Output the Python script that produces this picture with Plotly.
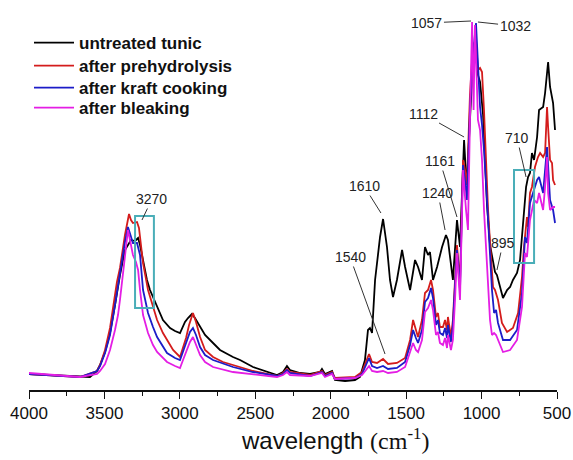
import plotly.graph_objects as go

# ---------------- data (wavenumber cm-1, intensity a.u.) ----------------
untreated_wn = [4000, 3861, 3662, 3596, 3549, 3529, 3496, 3463, 3430, 3397, 3364, 3337, 3324, 3297, 3277, 3264,
                3244, 3218, 3198, 3178, 3151, 3112, 3065, 3032, 2999, 2979, 2966, 2946, 2920, 2900, 2866, 2833,
                2780, 2734, 2648, 2601, 2515, 2436, 2356, 2316, 2290, 2270, 2204, 2137, 2071, 2058, 2038, 1991,
                1972, 1905, 1839, 1806, 1773, 1753, 1740, 1726, 1706, 1673, 1653, 1627, 1607, 1587, 1561, 1527,
                1507, 1474, 1441, 1421, 1395, 1375, 1355, 1342, 1329, 1322, 1295, 1262, 1236, 1223, 1190, 1163,
                1143, 1123, 1116, 1103, 1097, 1077, 1057, 1037, 1024, 1010, 990, 977, 964, 944, 924, 911, 898,
                878, 858, 831, 811, 792, 765, 745, 725, 705, 692, 679, 666, 652, 632, 619, 592, 579, 566, 559,
                546, 526, 513]
untreated_ab = [16, 15, 13, 13, 19, 25, 38, 57, 85, 115, 140, 147, 150, 149, 152, 145,
                128, 110, 100, 93, 84, 70, 62, 59, 57, 63, 68, 72, 76, 72, 63, 55,
                47, 40, 33, 30, 23, 19, 15, 18, 24, 20, 17, 16, 18, 21, 16, 19,
                10, 9, 10, 13, 30, 60, 62, 57, 110, 153, 171, 143, 110, 93, 110, 140,
                123, 100, 130, 123, 110, 143, 135, 138, 123, 110, 123, 143, 155, 150, 110, 170,
                143, 230, 250, 215, 207, 270, 330, 335, 315, 308, 275, 230, 185, 145, 128, 118, 115,
                102, 92, 100, 103, 110, 117, 130, 163, 203, 213, 217, 237, 230, 253, 280, 283, 297, 317, 328,
                303, 287, 260]

prehyd_wn = [4000, 3662, 3549, 3529, 3496, 3463, 3430, 3417, 3397, 3364, 3337, 3324, 3311, 3284, 3271, 3257,
             3244, 3211, 3178, 3151, 3112, 3085, 3045, 2999, 2979, 2959, 2939, 2913, 2893, 2866, 2833, 2780,
             2714, 2648, 2515, 2356, 2316, 2290, 2270, 2137, 2058, 2038, 1991, 1972, 1839, 1793, 1766, 1746,
             1726, 1693, 1653, 1620, 1561, 1507, 1474, 1454, 1435, 1421, 1395, 1375, 1355, 1335, 1322, 1302,
             1289, 1276, 1256, 1242, 1229, 1223, 1203, 1190, 1176, 1163, 1143, 1123, 1110, 1097, 1077, 1057,
             1037, 1024, 1010, 997, 984, 971, 957, 944, 924, 911, 891, 865, 831, 792, 758, 732, 719, 699,
             692, 679, 666, 646, 626, 612, 592, 579, 566, 559, 546, 533, 526, 513]
prehyd_ab = [16, 13, 19, 25, 40, 62, 95, 108, 122, 155, 176, 170, 167, 168, 162, 145,
             127, 100, 82, 70, 57, 50, 40, 33, 43, 52, 65, 77, 68, 53, 40, 33,
             28, 25, 19, 14, 17, 21, 18, 15, 19, 15, 18, 12, 13, 18, 28, 36,
             28, 27, 31, 26, 27, 32, 50, 70, 60, 53, 70, 97, 100, 110, 100, 73,
             77, 63, 63, 70, 60, 73, 53, 70, 110, 145, 107, 230, 220, 205, 295, 345,
             350, 320, 322, 318, 280, 230, 180, 147, 103, 100, 90, 67, 58, 62, 77, 113, 143, 173,
             163, 197, 203, 223, 233, 237, 233, 237, 283, 263, 230, 227, 210, 205]

kraft_wn = [4000, 3662, 3549, 3529, 3496, 3463, 3430, 3397, 3364, 3344, 3324, 3311, 3284, 3264, 3244, 3211,
            3178, 3151, 3085, 3032, 2999, 2979, 2959, 2933, 2913, 2893, 2866, 2833, 2780, 2648, 2515, 2356,
            2316, 2290, 2270, 2137, 2058, 2038, 1991, 1972, 1839, 1793, 1766, 1746, 1726, 1693, 1653, 1620,
            1561, 1507, 1474, 1454, 1435, 1421, 1395, 1375, 1355, 1335, 1322, 1302, 1289, 1276, 1256, 1242,
            1229, 1223, 1203, 1190, 1176, 1163, 1143, 1123, 1110, 1097, 1077, 1057, 1037, 1024, 1010, 997,
            984, 964, 944, 931, 917, 904, 891, 858, 811, 765, 732, 712, 699, 679, 659, 632, 619, 599, 592,
            566, 559, 546, 526, 513]
kraft_ab = [16, 13, 19, 24, 37, 55, 85, 118, 148, 163, 152, 147, 147, 135, 100, 77,
            63, 53, 37, 32, 30, 38, 47, 58, 62, 55, 43, 35, 30, 23, 18, 14,
            16, 20, 17, 14, 18, 14, 17, 11, 12, 16, 25, 32, 24, 22, 24, 21,
            22, 28, 45, 60, 52, 47, 60, 88, 92, 102, 92, 65, 70, 57, 55, 62,
            52, 65, 48, 65, 105, 140, 100, 225, 210, 190, 280, 335, 367, 320, 283, 265,
            240, 190, 130, 100, 77, 80, 67, 50, 50, 60, 97, 153, 147, 187, 197, 210, 213, 203, 197,
            243, 220, 190, 180, 167]

bleach_wn = [4000, 3662, 3549, 3529, 3496, 3463, 3430, 3410, 3397, 3377, 3357, 3344, 3324, 3311, 3291, 3277,
             3264, 3244, 3211, 3178, 3151, 3085, 3032, 2999, 2979, 2959, 2933, 2913, 2893, 2866, 2833, 2780,
             2648, 2515, 2356, 2316, 2290, 2270, 2137, 2058, 2038, 1991, 1972, 1839, 1793, 1766, 1746, 1726,
             1693, 1653, 1620, 1561, 1507, 1474, 1454, 1435, 1421, 1395, 1375, 1355, 1335, 1322, 1302, 1289,
             1276, 1256, 1242, 1229, 1223, 1203, 1190, 1176, 1163, 1143, 1123, 1103, 1090, 1077, 1063, 1053,
             1044, 1030, 1024, 1010, 997, 984, 964, 944, 931, 917, 904, 891, 858, 811, 765, 732, 712, 699,
             679, 652, 632, 619, 592, 579, 566, 559, 546, 526, 513]
bleach_ab = [17, 13, 16, 19, 26, 40, 60, 75, 90, 115, 145, 160, 145, 135, 128, 120,
             100, 75, 57, 45, 38, 28, 24, 22, 30, 38, 48, 53, 45, 35, 28, 23,
             18, 16, 13, 15, 18, 15, 14, 17, 13, 16, 11, 12, 15, 20, 24, 19,
             18, 19, 17, 18, 23, 38, 47, 40, 38, 50, 78, 82, 90, 80, 55, 58,
             47, 45, 52, 42, 55, 40, 50, 90, 137, 90, 220, 180, 160, 270, 368, 280,
             365, 300, 270, 260, 230, 180, 125, 70, 55, 57, 55, 50, 38, 40, 50, 83, 137, 133,
             170, 190, 187, 197, 180, 203, 233, 197, 180, 183, 183]

series_names = ["untreated tunic", "after prehydrolysis", "after kraft cooking", "after bleaking"]
series_colors = ["#000000", "#d41c1c", "#1c1cc8", "#e41ee4"]

x_ticks = [4000, 3500, 3000, 2500, 2000, 1500, 1000, 500]

# ---------------- figure ----------------
fig = go.Figure()
legend_ids = ["legend", "legend2", "legend3", "legend4"]
for name, color, wn, ab, lg in zip(series_names, series_colors,
                                   [untreated_wn, prehyd_wn, kraft_wn, bleach_wn],
                                   [untreated_ab, prehyd_ab, kraft_ab, bleach_ab],
                                   legend_ids):
    fig.add_trace(go.Scatter(x=wn, y=ab, mode="lines", name=name, legend=lg,
                             line=dict(color=color, width=1.8)))

ann_font = dict(family="Liberation Sans, Arial", size=14, color="#222222")
peak_labels = [
    # text, point (wn, a.u.), text centre (wn, a.u.)
    ("3270", 3251, 170, 3185, 191),
    ("1610", 1667, 177, 1779, 204),
    ("1540", 1640, 36, 1872, 133),
    ("1240", 1242, 160, 1289, 197),
    ("1161", 1163, 173, 1276, 229),
    ("1112", 1116, 253, 1388, 276),
    ("1057", 1070, 369, 1362, 367),
    ("1032", 1024, 368, 778, 364),
    ("895", 898, 120, 858, 147),
    ("710", 705, 213, 765, 252),
]
for txt, px, py, tx, ty in peak_labels:
    fig.add_annotation(x=px, y=py, ax=tx, ay=ty, xref="x", yref="y", axref="x", ayref="y",
                       text=txt, showarrow=True, arrowhead=0, arrowwidth=1, arrowcolor="#333333",
                       font=ann_font, standoff=0, startstandoff=0)

box_color = "#4aaeb8"
fig.add_shape(type="rect", xref="x", yref="y", x0=3297, x1=3172, y0=82, y1=174,
              line=dict(color=box_color, width=2))
fig.add_shape(type="rect", xref="x", yref="y", x0=785, x1=652, y0=127, y1=220,
              line=dict(color=box_color, width=2))

fig.add_annotation(xref="paper", yref="paper", x=0.58, y=-0.126, xanchor="center", yanchor="middle",
                   text='wavelength <span style="font-family:Liberation Serif, Times New Roman">(cm<sup>-1</sup>)</span>',
                   showarrow=False, font=dict(family="Liberation Sans, Arial", size=24, color="#111111"))

legend_font = dict(family="Liberation Sans, Arial", size=17, color="#111111", weight="bold")
legend_rows_y = [0.8897, 0.8308, 0.7744, 0.7231]
legend_layout = {}
for lg, ly in zip(legend_ids, legend_rows_y):
    legend_layout[lg] = dict(x=0.0, y=ly, xanchor="left", yanchor="middle", font=legend_font,
                             bgcolor="rgba(0,0,0,0)", itemwidth=40)

fig.update_layout(
    width=573, height=460,
    margin=dict(l=29, r=16, t=0, b=70),
    paper_bgcolor="white", plot_bgcolor="white",
    showlegend=True,
    xaxis=dict(range=[4000, 500], tickvals=x_ticks, ticks="outside", ticklen=7, tickwidth=1.2,
               tickcolor="#111111", showline=True, linecolor="#111111", linewidth=1.5,
               showgrid=False, zeroline=False,
               tickfont=dict(family="Liberation Sans, Arial", size=17, color="#111111"),
               minor=dict(dtick=250, ticks="outside", ticklen=4, tickwidth=1.2, tickcolor="#111111", showgrid=False)),
    yaxis=dict(range=[0, 390], visible=False, showgrid=False, zeroline=False),
    **legend_layout,
)

fig.write_html("out.html")
